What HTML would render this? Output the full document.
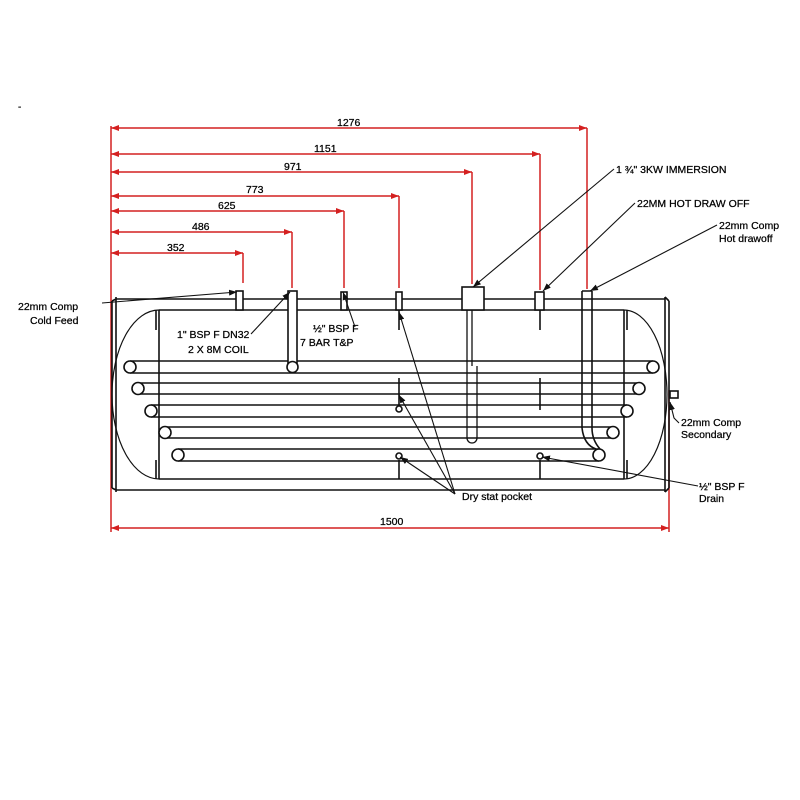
<!DOCTYPE html>
<html><head><meta charset="utf-8"><style>
html,body{margin:0;padding:0;background:#fff;}
svg{display:block;}
text{font-family:"Liberation Sans",Arial,sans-serif;font-size:10.5px;fill:#000;stroke:#000;stroke-width:0.25px;}
</style></head><body>
<svg width="800" height="800" viewBox="0 0 800 800" xmlns="http://www.w3.org/2000/svg">
<defs>
<marker id="ar" markerWidth="8" markerHeight="6" refX="8" refY="3" orient="auto" markerUnits="userSpaceOnUse"><path d="M0,0 L8,3 L0,6 z" fill="#d42020"/></marker>
<marker id="al" markerWidth="8" markerHeight="6" refX="0" refY="3" orient="auto" markerUnits="userSpaceOnUse"><path d="M8,0 L0,3 L8,6 z" fill="#d42020"/></marker>
<marker id="ab" markerWidth="8" markerHeight="6" refX="8" refY="3" orient="auto" markerUnits="userSpaceOnUse"><path d="M0,0 L8,3 L0,6 z" fill="#111"/></marker>
</defs>
<text x="18" y="110" style="font-size:10px">-</text>

<g stroke="#d42020" stroke-width="1.5" fill="none">
<line x1="111" y1="126" x2="111" y2="532"/>
<line x1="111" y1="128" x2="587" y2="128" marker-start="url(#al)" marker-end="url(#ar)"/>
<line x1="111" y1="154" x2="540" y2="154" marker-start="url(#al)" marker-end="url(#ar)"/>
<line x1="111" y1="172" x2="472" y2="172" marker-start="url(#al)" marker-end="url(#ar)"/>
<line x1="111" y1="196" x2="399" y2="196" marker-start="url(#al)" marker-end="url(#ar)"/>
<line x1="111" y1="211" x2="344" y2="211" marker-start="url(#al)" marker-end="url(#ar)"/>
<line x1="111" y1="232" x2="292" y2="232" marker-start="url(#al)" marker-end="url(#ar)"/>
<line x1="111" y1="253" x2="243" y2="253" marker-start="url(#al)" marker-end="url(#ar)"/>
<line x1="587" y1="128" x2="587" y2="289"/>
<line x1="540" y1="154" x2="540" y2="290"/>
<line x1="472" y1="172" x2="472" y2="284"/>
<line x1="399" y1="196" x2="399" y2="288"/>
<line x1="344" y1="211" x2="344" y2="288"/>
<line x1="292" y1="232" x2="292" y2="288"/>
<line x1="243" y1="253" x2="243" y2="283"/>
<line x1="669" y1="390" x2="669" y2="532"/>
<line x1="111" y1="528" x2="669" y2="528" marker-start="url(#al)" marker-end="url(#ar)"/>
</g>
<text x="337" y="126">1276</text>
<text x="314" y="152">1151</text>
<text x="284" y="170">971</text>
<text x="246" y="193">773</text>
<text x="218" y="209">625</text>
<text x="192" y="230">486</text>
<text x="167" y="251">352</text>
<text x="380" y="525">1500</text>

<g stroke="#111" stroke-width="1.6" fill="none">
<line x1="116" y1="299" x2="665" y2="299"/>
<line x1="116" y1="490" x2="665" y2="490"/>
<line x1="159" y1="310" x2="624" y2="310"/>
<line x1="159" y1="479" x2="624" y2="479"/>
<path d="M116,297 V492 M112,301 V488 M112,301 L116,299 M112,488 L116,490"/>
<path d="M665,297 V492 M669,301 V488 M665,297 L669,301 M665,492 L669,488"/>
<line x1="159" y1="310" x2="159" y2="479"/>
<line x1="156" y1="310" x2="156" y2="330"/><line x1="156" y1="460" x2="156" y2="479"/>
<line x1="624" y1="310" x2="624" y2="479"/>
<line x1="627" y1="310" x2="627" y2="330"/><line x1="627" y1="460" x2="627" y2="479"/>
<path d="M159,310 A47,84.5 0 0 0 159,479" stroke-width="1.2"/>
<path d="M624,310 A43,84.5 0 0 1 624,479" stroke-width="1.2"/>
<rect x="670" y="391" width="8" height="7"/>
<line x1="130" y1="361" x2="653" y2="361"/><line x1="130" y1="373" x2="653" y2="373"/>
<line x1="138" y1="383" x2="639" y2="383"/><line x1="138" y1="394" x2="639" y2="394"/>
<line x1="151" y1="405" x2="627" y2="405"/><line x1="151" y1="417" x2="627" y2="417"/>
<line x1="165" y1="427" x2="613" y2="427"/><line x1="165" y1="438" x2="613" y2="438"/>
<line x1="178" y1="449" x2="599" y2="449"/><line x1="178" y1="461" x2="599" y2="461"/>
<circle cx="130" cy="367" r="6" fill="#fff"/><circle cx="653" cy="367" r="6" fill="#fff"/>
<circle cx="138" cy="388.5" r="6" fill="#fff"/><circle cx="639" cy="388.5" r="6" fill="#fff"/>
<circle cx="151" cy="411" r="6" fill="#fff"/><circle cx="627" cy="411" r="6" fill="#fff"/>
<circle cx="165" cy="432.5" r="6" fill="#fff"/><circle cx="613" cy="432.5" r="6" fill="#fff"/>
<circle cx="178" cy="455" r="6" fill="#fff"/><circle cx="599" cy="455" r="6" fill="#fff"/>
<rect x="288" y="291" width="9" height="72" fill="#fff"/>
<circle cx="292.5" cy="367" r="5.5" fill="#fff"/>
<path d="M582,291 V428 M592,291 V428 M582,291 H592"/>
<path d="M582,428 Q584,445 596,449 M592,428 Q592,440 600,449"/>
<rect x="236" y="291" width="7" height="19" fill="#fff"/>
<rect x="341" y="292" width="6" height="18" fill="#fff"/>
<rect x="396" y="292" width="6" height="18" fill="#fff"/>
<rect x="462" y="287" width="22" height="23" fill="#fff"/>
<rect x="535" y="292" width="9" height="18" fill="#fff"/>
<line x1="399" y1="310" x2="399" y2="330"/><line x1="399" y1="378" x2="399" y2="405"/>
<line x1="399" y1="460" x2="399" y2="479"/>
<line x1="540" y1="310" x2="540" y2="330"/><line x1="540" y1="378" x2="540" y2="410"/>
<line x1="540" y1="460" x2="540" y2="479"/>
<circle cx="399" cy="409" r="3"/><circle cx="399" cy="456" r="3"/><circle cx="540" cy="456" r="3"/>
<path d="M467,310 V438 A5,5 0 0 0 477,438 V366 M472,310 V366" stroke-width="1.3"/>
</g>

<g stroke="#111" stroke-width="1.1" fill="none">
<line x1="102" y1="303" x2="237" y2="292" marker-end="url(#ab)"/>
<line x1="251" y1="334" x2="290" y2="292" marker-end="url(#ab)"/>
<line x1="355" y1="327" x2="343" y2="292" marker-end="url(#ab)"/>
<line x1="455" y1="494" x2="399" y2="312" marker-end="url(#ab)"/>
<line x1="455" y1="494" x2="399" y2="395" marker-end="url(#ab)"/>
<line x1="455" y1="494" x2="400" y2="457" marker-end="url(#ab)"/>
<line x1="614" y1="169" x2="473" y2="287" marker-end="url(#ab)"/>
<line x1="635" y1="203" x2="543" y2="291" marker-end="url(#ab)"/>
<line x1="717" y1="225" x2="590" y2="291" marker-end="url(#ab)"/>
<path d="M679,423 L674,418 L670,402" marker-end="url(#ab)"/>
<line x1="698" y1="486" x2="542" y2="457" marker-end="url(#ab)"/>
</g>

<text x="18" y="310">22mm Comp</text>
<text x="30" y="324">Cold Feed</text>
<text x="177" y="338">1" BSP F DN32</text>
<text x="188" y="353">2 X 8M COIL</text>
<text x="313" y="332">½" BSP F</text>
<text x="300" y="346">7 BAR T&amp;P</text>
<text x="616" y="173">1 ¾" 3KW IMMERSION</text>
<text x="637" y="207">22MM HOT DRAW OFF</text>
<text x="719" y="229">22mm Comp</text>
<text x="719" y="242">Hot drawoff</text>
<text x="681" y="426">22mm Comp</text>
<text x="681" y="438">Secondary</text>
<text x="699" y="490">½" BSP F</text>
<text x="699" y="502">Drain</text>
<text x="462" y="500">Dry stat pocket</text>
</svg>
</body></html>
